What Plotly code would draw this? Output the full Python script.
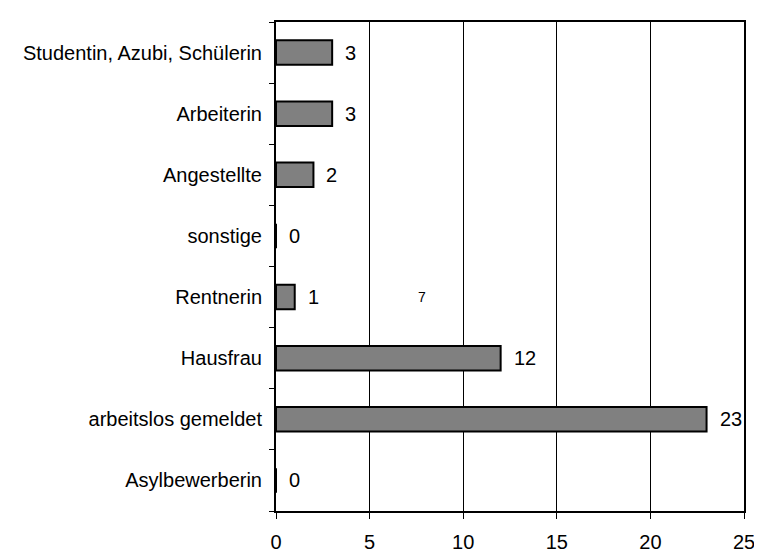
import plotly.graph_objects as go

# Categories bottom -> top, as plotly draws them
categories = [
    "Asylbewerberin",
    "arbeitslos gemeldet",
    "Hausfrau",
    "Rentnerin",
    "sonstige",
    "Angestellte",
    "Arbeiterin",
    "Studentin, Azubi, Schülerin",
]
counts = [0, 23, 12, 1, 0, 2, 3, 3]

x_ticks = [0, 5, 10, 15, 20, 25]

# stray label left in the original chart
stray_text = "7"
stray_x = 7.8
stray_cat = "Rentnerin"

FONT = "Liberation Sans, Arial, sans-serif"

fig = go.Figure()
fig.add_trace(
    go.Bar(
        x=counts,
        y=categories,
        orientation="h",
        width=0.4,
        marker=dict(color="#808080", line=dict(color="black", width=2)),
        showlegend=False,
        hoverinfo="x+y",
    )
)

# value labels right of each bar
for cat, val in zip(categories, counts):
    fig.add_annotation(
        x=val, y=cat, text=str(val), showarrow=False,
        xanchor="left", xshift=11,
        font=dict(family=FONT, size=20, color="black"),
    )

fig.add_annotation(
    x=stray_x, y=stray_cat, text=stray_text, showarrow=False,
    font=dict(family=FONT, size=14, color="black"),
)

fig.update_layout(
    width=762,
    height=557,
    margin=dict(l=268, r=26, t=12, b=41),
    paper_bgcolor="white",
    plot_bgcolor="white",
    font=dict(family=FONT, size=20, color="black"),
    bargap=0.6,
)

fig.update_xaxes(
    range=[0, 25],
    tickvals=x_ticks,
    ticks="outside",
    ticklen=6,
    tickcolor="black",
    showgrid=True,
    gridcolor="black",
    gridwidth=1,
    showline=True,
    linecolor="black",
    linewidth=2,
    mirror=True,
    zeroline=False,
    ticklabelstandoff=6,
)
fig.update_yaxes(
    categoryorder="array",
    categoryarray=categories,
    ticks="outside",
    tickson="boundaries",
    ticklen=5,
    tickcolor="black",
    showgrid=False,
    showline=True,
    linecolor="black",
    linewidth=2,
    mirror=True,
    zeroline=False,
    ticklabelstandoff=8,
)

fig.write_html("out.html")
